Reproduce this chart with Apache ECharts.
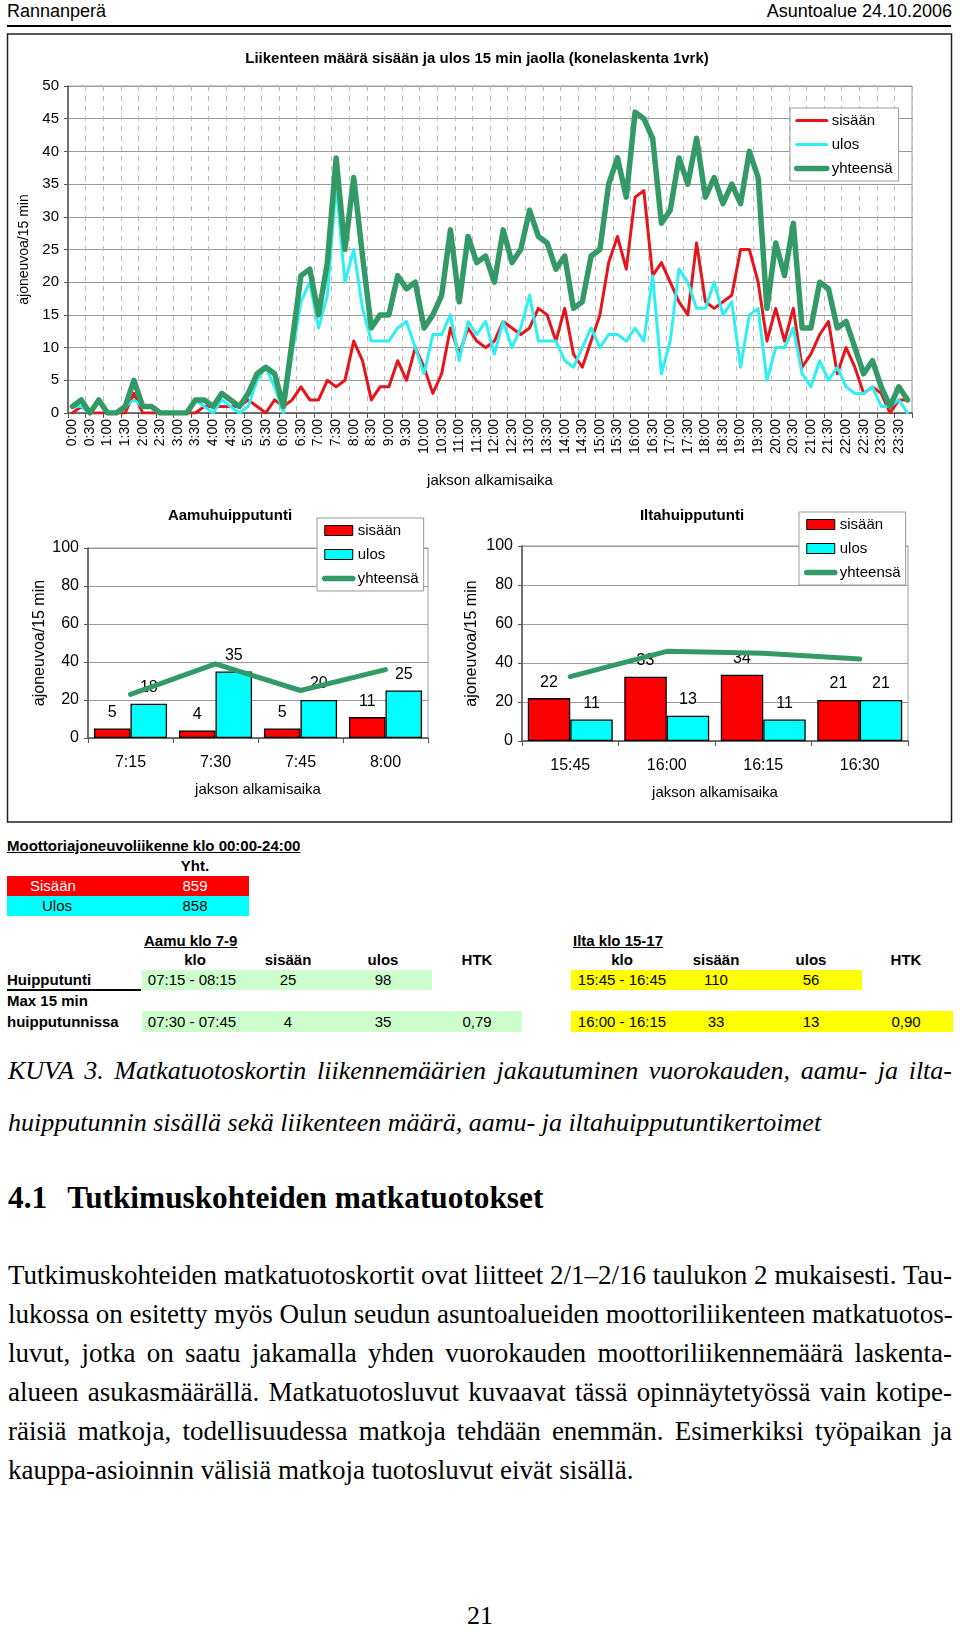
<!DOCTYPE html>
<html><head><meta charset="utf-8">
<script src="https://cdn.jsdelivr.net/npm/echarts@6/dist/echarts.min.js"></script>
<style>
html,body{margin:0;padding:0;background:#fff;}
body{width:960px;height:1631px;position:relative;overflow:hidden;font-family:'Liberation Sans',Arial,sans-serif;color:#000;}
.a{position:absolute;white-space:nowrap;line-height:20px;}
.b{font-weight:bold;}
.c{transform:translateX(-50%);}
.bg{position:absolute;}
.serif{font-family:'Liberation Serif','Times New Roman',serif;}
.jl{position:absolute;left:8px;width:944px;white-space:nowrap;text-align:justify;text-align-last:justify;}
.ll{position:absolute;left:8px;white-space:nowrap;}
</style></head><body>
<div class="a" style="left:7px;top:0px;font-size:18px;line-height:22px;">Rannanperä</div>
<div class="a" style="right:8px;top:0px;font-size:18px;line-height:22px;">Asuntoalue 24.10.2006</div>
<div style="position:absolute;left:7px;top:25px;width:944px;height:2px;background:#000;"></div>
<div id="chart" style="position:absolute;left:0;top:0;width:960px;height:830px;"></div>

<!-- summary table -->
<div class="a b" style="left:7px;top:836px;font-size:15px;text-decoration:underline;">Moottoriajoneuvoliikenne klo 00:00-24:00</div>
<div class="a b c" style="left:195px;top:856px;font-size:15px;">Yht.</div>
<div class="bg" style="left:7px;top:876px;width:242px;height:20px;background:#ff0000;"></div>
<div class="bg" style="left:7px;top:896px;width:242px;height:20px;background:#00ffff;"></div>
<div class="a" style="left:30px;top:876px;font-size:15px;color:#fff;">Sisään</div>
<div class="a c" style="left:195px;top:876px;font-size:15px;color:#fff;">859</div>
<div class="a" style="left:42px;top:896px;font-size:15px;">Ulos</div>
<div class="a c" style="left:195px;top:896px;font-size:15px;">858</div>

<div class="a b" style="left:144px;top:931px;font-size:15px;text-decoration:underline;">Aamu klo 7-9</div>
<div class="a b" style="left:573px;top:931px;font-size:15px;text-decoration:underline;">Ilta klo 15-17</div>

<div class="a b c" style="left:195px;top:950px;font-size:15px;">klo</div>
<div class="a b c" style="left:288px;top:950px;font-size:15px;">sisään</div>
<div class="a b c" style="left:383px;top:950px;font-size:15px;">ulos</div>
<div class="a b c" style="left:477px;top:950px;font-size:15px;">HTK</div>
<div class="a b c" style="left:622px;top:950px;font-size:15px;">klo</div>
<div class="a b c" style="left:716px;top:950px;font-size:15px;">sisään</div>
<div class="a b c" style="left:811px;top:950px;font-size:15px;">ulos</div>
<div class="a b c" style="left:906px;top:950px;font-size:15px;">HTK</div>

<div class="bg" style="left:142px;top:970px;width:290px;height:20px;background:#ccffcc;"></div>
<div class="bg" style="left:571px;top:970px;width:291px;height:20px;background:#ffff00;"></div>
<div class="bg" style="left:142px;top:1011px;width:380px;height:21px;background:#ccffcc;"></div>
<div class="bg" style="left:571px;top:1011px;width:382px;height:21px;background:#ffff00;"></div>
<div style="position:absolute;left:7px;top:989px;width:134px;height:2px;background:#000;"></div>

<div class="a b" style="left:7px;top:970px;font-size:15px;">Huipputunti</div>
<div class="a c" style="left:192px;top:970px;font-size:15px;">07:15 - 08:15</div>
<div class="a c" style="left:288px;top:970px;font-size:15px;">25</div>
<div class="a c" style="left:383px;top:970px;font-size:15px;">98</div>
<div class="a c" style="left:622px;top:970px;font-size:15px;">15:45 - 16:45</div>
<div class="a c" style="left:716px;top:970px;font-size:15px;">110</div>
<div class="a c" style="left:811px;top:970px;font-size:15px;">56</div>

<div class="a b" style="left:7px;top:991px;font-size:15px;">Max 15 min</div>
<div class="a b" style="left:7px;top:1012px;font-size:15px;">huipputunnissa</div>
<div class="a c" style="left:192px;top:1012px;font-size:15px;">07:30 - 07:45</div>
<div class="a c" style="left:288px;top:1012px;font-size:15px;">4</div>
<div class="a c" style="left:383px;top:1012px;font-size:15px;">35</div>
<div class="a c" style="left:477px;top:1012px;font-size:15px;">0,79</div>
<div class="a c" style="left:622px;top:1012px;font-size:15px;">16:00 - 16:15</div>
<div class="a c" style="left:716px;top:1012px;font-size:15px;">33</div>
<div class="a c" style="left:811px;top:1012px;font-size:15px;">13</div>
<div class="a c" style="left:906px;top:1012px;font-size:15px;">0,90</div>

<!-- caption and text -->
<div class="jl serif" style="top:1055px;font-size:26px;line-height:32px;font-style:italic;">KUVA 3. Matkatuotoskortin liikennemäärien jakautuminen vuorokauden, aamu- ja ilta-</div>
<div class="ll serif" style="top:1107px;font-size:26px;line-height:32px;font-style:italic;">huipputunnin sisällä sekä liikenteen määrä, aamu- ja iltahuipputuntikertoimet</div>
<div class="ll serif" style="top:1180px;font-size:31.3px;line-height:36px;font-weight:bold;">4.1<span style="display:inline-block;width:20px;"></span>Tutkimuskohteiden matkatuotokset</div>
<div class="jl serif" style="top:1259px;font-size:27px;line-height:32px;">Tutkimuskohteiden matkatuotoskortit ovat liitteet 2/1–2/16 taulukon 2 mukaisesti. Tau-</div>
<div class="jl serif" style="top:1298px;font-size:27px;line-height:32px;">lukossa on esitetty myös Oulun seudun asuntoalueiden moottoriliikenteen matkatuotos-</div>
<div class="jl serif" style="top:1337px;font-size:27px;line-height:32px;">luvut, jotka on saatu jakamalla yhden vuorokauden moottoriliikennemäärä laskenta-</div>
<div class="jl serif" style="top:1376px;font-size:27px;line-height:32px;">alueen asukasmäärällä. Matkatuotosluvut kuvaavat tässä opinnäytetyössä vain kotipe-</div>
<div class="jl serif" style="top:1415px;font-size:27px;line-height:32px;">räisiä matkoja, todellisuudessa matkoja tehdään enemmän. Esimerkiksi työpaikan ja</div>
<div class="ll serif" style="top:1454px;font-size:27px;line-height:32px;">kauppa-asioinnin välisiä matkoja tuotosluvut eivät sisällä.</div>
<div class="a serif c" style="left:480px;top:1600px;font-size:26px;line-height:32px;">21</div>

<script>
// ---- data ----
const times = ["0:00","0:15","0:30","0:45","1:00","1:15","1:30","1:45","2:00","2:15","2:30","2:45","3:00","3:15","3:30","3:45","4:00","4:15","4:30","4:45","5:00","5:15","5:30","5:45","6:00","6:15","6:30","6:45","7:00","7:15","7:30","7:45","8:00","8:15","8:30","8:45","9:00","9:15","9:30","9:45","10:00","10:15","10:30","10:45","11:00","11:15","11:30","11:45","12:00","12:15","12:30","12:45","13:00","13:15","13:30","13:45","14:00","14:15","14:30","14:45","15:00","15:15","15:30","15:45","16:00","16:15","16:30","16:45","17:00","17:15","17:30","17:45","18:00","18:15","18:30","18:45","19:00","19:15","19:30","19:45","20:00","20:15","20:30","20:45","21:00","21:15","21:30","21:45","22:00","22:15","22:30","22:45","23:00","23:15","23:30","23:45"];
const sisaan = [0,1,0,0,0,0,0,3,0,0, 0,0,0,0,0,1,1,1,1,1, 2,1,0,2,1,2,4,2,2,5, 4,5,11,8,2,4,4,8,5,10, 7,3,6,13,9,13,11,10,11,14, 13,12,13,16,15,11,16,9,7,11, 15,23,27,22,33,34,21,23,20,17, 15,26,17,16,17,18,25,25,20,11, 16,11,16,7,9,12,14,6,10,7, 3,4,3,0,2,2];
const ulos = [1,1,0,2,0,0,1,2,1,1, 0,0,0,0,2,1,0,2,1,0, 1,5,7,4,0,9,17,20,13,18, 35,20,25,16,11,11,11,13,14,10, 6,12,12,15,8,14,12,14,9,14, 10,13,18,11,11,11,8,7,10,13, 10,12,12,11,13,11,21,6,11,22, 20,16,16,20,15,17,7,15,16,5, 10,10,13,6,4,8,5,7,4,3, 3,4,1,1,2,0];
const yhteensa = [1,2,0,2,0,0,1,5,1,1, 0,0,0,0,2,2,1,3,2,1, 3,6,7,6,1,11,21,22,15,23, 39,25,36,24,13,15,15,21,19,20, 13,15,18,28,17,27,23,24,20,28, 23,25,31,27,26,22,24,16,17,24, 25,35,39,33,46,45,42,29,31,39, 35,42,33,36,32,35,32,40,36,16, 26,21,29,13,13,20,19,13,14,10, 6,8,4,1,4,2];

const amCats = ["7:15","7:30","7:45","8:00"];
const amSisaan = [5,4,5,11];
const amUlos = [18,35,20,25];
const amYht = [23,39,25,36];

const pmCats = ["15:45","16:00","16:15","16:30"];
const pmSisaan = [22,33,34,21];
const pmUlos = [11,13,11,21];
const pmYht = [33,46,45,42];

const seriesNames = ["sisään","ulos","yhteensä"];
const topTitle = "Liikenteen määrä sisään ja ulos 15 min jaolla (konelaskenta 1vrk)";
const amTitle = "Aamuhuipputunti";
const pmTitle = "Iltahuipputunti";
const yName = "ajoneuvoa/15 min";
const xName = "jakson alkamisaika";

// ---- style ----
const FONT = "'Liberation Sans', Arial, sans-serif";
const RED_LINE = '#e5161b', CYAN_LINE = '#2ff0f0', GREEN = '#339966';
const RED_BAR = '#ff0000', CYAN_BAR = '#00ffff';
const AX = '#555', GRIDC = '#9a9a9a';

function valueAxis(grid, max, interval, labelSize, nameGap, nameSize) {
  return {
    gridIndex: grid, type: 'value', min: 0, max: max, interval: interval,
    axisLine: {show: true, lineStyle: {color: AX, width: 1.5}},
    axisTick: {show: true, length: 4, lineStyle: {color: AX}},
    axisLabel: {fontSize: labelSize, color: '#000', margin: 9, fontFamily: FONT},
    splitLine: {show: true, lineStyle: {color: GRIDC, width: 1.2}},
    name: yName, nameLocation: 'middle', nameGap: nameGap,
    nameTextStyle: {fontSize: nameSize, color: '#000', fontFamily: FONT}
  };
}
function catAxis(grid, cats, nameGap) {
  return {
    gridIndex: grid, type: 'category', data: cats,
    axisLine: {lineStyle: {color: AX, width: 1.5}},
    axisTick: {show: true, length: 5, lineStyle: {color: AX}},
    axisLabel: {fontSize: 16, color: '#000', margin: 17, fontFamily: FONT},
    name: xName, nameLocation: 'middle', nameGap: nameGap,
    nameTextStyle: {fontSize: 15, color: '#000', fontFamily: FONT}
  };
}
function barLegend(left, top) {
  return {
    left: left, top: top, orient: 'vertical', selectedMode: false,
    itemWidth: 28, itemHeight: 10, itemGap: 9,
    padding: [5, 5, 5, 5], borderColor: '#999', borderWidth: 1, backgroundColor: '#fff',
    textStyle: {fontSize: 15, color: '#000', fontFamily: FONT},
    lineStyle: {width: 'inherit'},
    data: [
      {name: seriesNames[0], icon: 'rect', itemStyle: {color: RED_BAR, borderColor: '#000', borderWidth: 1, opacity: 1}},
      {name: seriesNames[1], icon: 'rect', itemStyle: {color: CYAN_BAR, borderColor: '#000', borderWidth: 1, opacity: 1}},
      {name: seriesNames[2], itemStyle: {opacity: 0}}
    ]
  };
}
function bar(name, xi, data, color, gap) {
  return {
    name: name, type: 'bar', xAxisIndex: xi, yAxisIndex: xi, data: data,
    barGap: '0%', barCategoryGap: gap,
    itemStyle: {color: color, borderColor: '#000', borderWidth: 1.3},
    label: {show: true, position: 'top', distance: 8, fontSize: 16, color: '#000', fontFamily: FONT},
    z: 2
  };
}
function line(name, xi, data, color, width, z) {
  return {
    name: name, type: 'line', xAxisIndex: xi, yAxisIndex: xi, data: data,
    symbol: 'none', showSymbol: false,
    lineStyle: {color: color, width: width, cap: 'round', join: 'round'},
    itemStyle: {color: color}, z: z
  };
}

const chart = echarts.init(document.getElementById('chart'), null, {renderer: 'canvas'});
const option = {
  animation: false,
  textStyle: {fontFamily: FONT, color: '#000'},
  grid: [
    {left: 68, top: 86, width: 844, height: 327, show: true, borderColor: GRIDC, borderWidth: 1},
    {left: 88, top: 548, width: 340, height: 190, show: true, borderColor: GRIDC, borderWidth: 1},
    {left: 522, top: 546, width: 386, height: 195, show: true, borderColor: GRIDC, borderWidth: 1}
  ],
  xAxis: [
    {
      gridIndex: 0, type: 'category', data: times, boundaryGap: true,
      axisLine: {lineStyle: {color: AX, width: 1.5}},
      axisTick: {show: true, interval: 1, length: 5, lineStyle: {color: AX}},
      axisLabel: {interval: 1, rotate: 90, fontSize: 14, color: '#000', margin: 6, fontFamily: FONT},
      splitLine: {show: true, interval: 1, lineStyle: {color: '#bbb', type: [5, 5], width: 1}},
      name: xName, nameLocation: 'middle', nameGap: 60,
      nameTextStyle: {fontSize: 15, color: '#000', fontFamily: FONT}
    },
    catAxis(1, amCats, 44),
    catAxis(2, pmCats, 44)
  ],
  yAxis: [
    valueAxis(0, 50, 5, 15, 30, 14),
    valueAxis(1, 100, 20, 16, 40, 16),
    valueAxis(2, 100, 20, 16, 42, 16)
  ],
  legend: [
    {
      left: 790, top: 108, orient: 'vertical', selectedMode: false,
      itemWidth: 30, itemHeight: 12, itemGap: 9,
      padding: [5, 6, 5, 4], borderColor: '#999', borderWidth: 1, backgroundColor: '#fff',
      textStyle: {fontSize: 15, color: '#000', fontFamily: FONT},
      itemStyle: {opacity: 0},
      lineStyle: {width: 'inherit'},
      data: seriesNames
    },
    barLegend(317, 518),
    barLegend(799, 512)
  ],
  series: [
    line(seriesNames[0], 0, sisaan, RED_LINE, 3, 3),
    line(seriesNames[1], 0, ulos, CYAN_LINE, 3, 4),
    line(seriesNames[2], 0, yhteensa, GREEN, 5.5, 5),
    bar(seriesNames[0], 1, amSisaan, RED_BAR, '14%'),
    bar(seriesNames[1], 1, amUlos, CYAN_BAR, '14%'),
    line(seriesNames[2], 1, amYht, GREEN, 5, 6),
    bar(seriesNames[0], 2, pmSisaan, RED_BAR, '12%'),
    bar(seriesNames[1], 2, pmUlos, CYAN_BAR, '12%'),
    line(seriesNames[2], 2, pmYht, GREEN, 5, 6)
  ],
  graphic: [
    {type: 'rect', shape: {x: 7.5, y: 34, width: 944, height: 788}, style: {fill: 'none', stroke: '#222', lineWidth: 1.5}, z: -10},
    {type: 'text', x: 477, y: 59, style: {text: topTitle, fontSize: 15, fontWeight: 'bold', fontFamily: FONT, fill: '#000', align: 'center', verticalAlign: 'middle'}},
    {type: 'text', x: 230, y: 516, style: {text: amTitle, fontSize: 15, fontWeight: 'bold', fontFamily: FONT, fill: '#000', align: 'center', verticalAlign: 'middle'}},
    {type: 'text', x: 692, y: 516, style: {text: pmTitle, fontSize: 15, fontWeight: 'bold', fontFamily: FONT, fill: '#000', align: 'center', verticalAlign: 'middle'}}
  ]
};
chart.setOption(option);
</script>
</body></html>
